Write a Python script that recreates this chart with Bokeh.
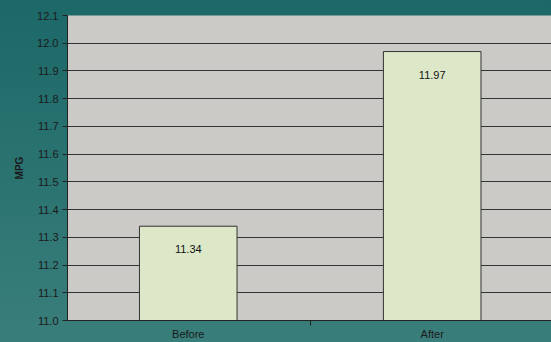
from bokeh.plotting import figure
from bokeh.models import Range1d, FixedTicker, NumeralTickFormatter
from bokeh.embed import file_html
from bokeh.resources import INLINE
from bokeh.core.properties import value

categories = ["Before", "After"]
mpg = [11.34, 11.97]
y_ticks = [11.0, 11.1, 11.2, 11.3, 11.4, 11.5, 11.6, 11.7, 11.8, 11.9, 12.0, 12.1]

xs = [i + 0.5 for i in range(len(categories))]
labels = ["%.2f" % v for v in mpg]

p = figure(width=551, height=342, output_backend="svg", toolbar_location=None,
           x_range=Range1d(0.005, 1.989), y_range=Range1d(11.0, 12.1),
           min_border_left=67, min_border_right=0, min_border_top=15, min_border_bottom=21)
p.border_fill_color = None
p.background_fill_color = "#cccac6"
p.outline_line_color = None

p.vbar(x=xs, top=mpg, bottom=11.0, width=0.4, fill_color="#dde8c9", line_color="#333333", line_width=1)
p.text(x=xs, y=mpg, text=labels, text_align="center", text_baseline="middle", y_offset=23,
       text_font=value("Liberation Sans"), text_font_size="11px", text_color="#111111")

ax = p.xaxis[0]
ax.ticker = FixedTicker(ticks=xs, minor_ticks=[0, 1, 2])
ax.major_label_overrides = {x: c for x, c in zip(xs, categories)}
ax.major_tick_out = 0
ax.major_tick_in = 0
ax.minor_tick_out = 5
ax.minor_tick_in = 0
ax.minor_tick_line_color = "#222222"
ax.axis_line_color = "#222222"
ax.major_label_standoff = 2
ax.major_label_text_font = "Liberation Sans"
ax.major_label_text_font_size = "11px"
ax.major_label_text_color = "#1a1a1a"

ay = p.yaxis[0]
ay.ticker = FixedTicker(ticks=y_ticks)
ay.formatter = NumeralTickFormatter(format="0.0")
ay.major_tick_out = 5
ay.major_tick_in = 0
ay.minor_tick_line_color = None
ay.axis_line_color = "#222222"
ay.major_tick_line_color = "#222222"
ay.major_label_standoff = 4
ay.major_label_text_font = "Liberation Sans"
ay.major_label_text_font_size = "11px"
ay.major_label_text_color = "#1a1a1a"
ay.axis_label = "MPG"
ay.axis_label_text_font = "Liberation Sans"
ay.axis_label_text_font_size = "10px"
ay.axis_label_text_font_style = "bold"
ay.axis_label_text_color = "#1a1a1a"
ay.axis_label_standoff = 9

p.xgrid.grid_line_color = None
p.ygrid.ticker = FixedTicker(ticks=y_ticks)
p.ygrid.grid_line_color = "#333333"
p.ygrid.grid_line_width = 1

html = file_html(p, INLINE)
html = html.replace("<head>", "<head><style>html,body{margin:0;padding:0;background:linear-gradient(to bottom,#1c6868 0%,#2a7371 50%,#3a7e7b 100%);min-height:342px;}</style>", 1)
open("out.html", "w").write(html)
